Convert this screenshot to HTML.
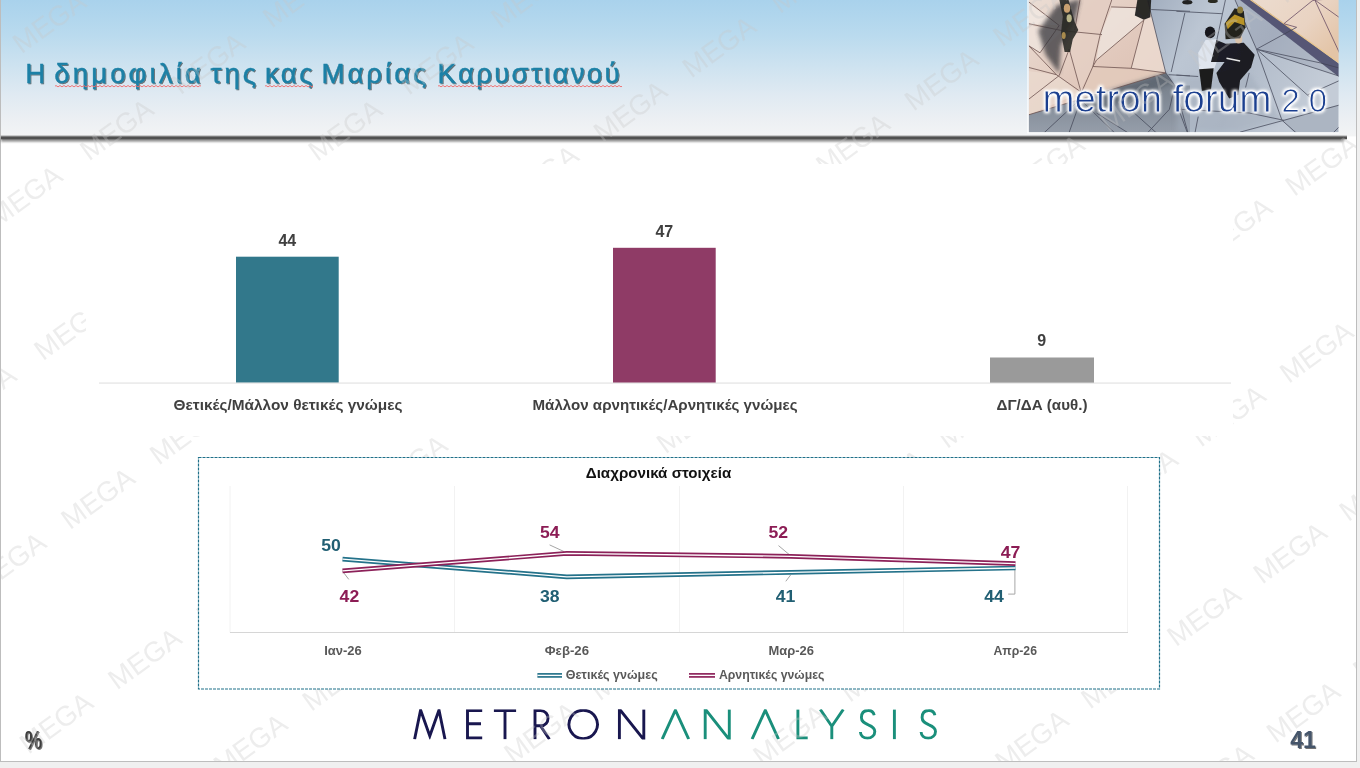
<!DOCTYPE html>
<html lang="el">
<head>
<meta charset="utf-8">
<title>Η δημοφιλία της κας Μαρίας Καρυστιανού</title>
<style>
  html, body { margin: 0; padding: 0; background: #f0f0f0; }
  body { width: 1360px; height: 768px; overflow: hidden; font-family: "Liberation Sans", sans-serif; }
  svg { display: block; position: absolute; left: 0; top: 0; will-change: transform; }
  svg text { font-family: "Liberation Sans", sans-serif; }
  .b { font-weight: bold; }
</style>
</head>
<body>
<svg width="1360" height="768" viewBox="0 0 1360 768">
  <defs>
    <linearGradient id="hdr" x1="0" y1="0" x2="0" y2="1">
      <stop offset="0" stop-color="#a9d2ec"/>
      <stop offset="0.25" stop-color="#b9daee"/>
      <stop offset="0.5" stop-color="#cfe3f0"/>
      <stop offset="0.7" stop-color="#e0eaf2"/>
      <stop offset="0.86" stop-color="#ebeff3"/>
      <stop offset="1" stop-color="#f3f4f5"/>
    </linearGradient>
    <filter id="blur2" x="-5%" y="-200%" width="110%" height="500%"><feGaussianBlur stdDeviation="1.3"/></filter>
    <filter id="tsh" x="-5%" y="-20%" width="110%" height="150%">
      <feGaussianBlur in="SourceAlpha" stdDeviation="0.7" result="b"/>
      <feOffset in="b" dx="1.2" dy="1.2" result="o"/>
      <feComponentTransfer in="o" result="s"><feFuncA type="linear" slope="0.55"/></feComponentTransfer>
      <feMerge><feMergeNode in="s"/><feMergeNode in="SourceGraphic"/></feMerge>
    </filter>
    <clipPath id="slideclip"><rect x="1" y="0" width="1355" height="761"/></clipPath>
    <clipPath id="logoclip"><rect x="400" y="709.2" width="560" height="30.2"/></clipPath>
    <clipPath id="photoclip"><rect x="1028.6" y="0" width="310" height="132.2"/></clipPath>
    <linearGradient id="pinkgrad" x1="0" y1="0" x2="1" y2="1">
      <stop offset="0" stop-color="#ebddd4"/><stop offset="0.5" stop-color="#e2cabe"/><stop offset="1" stop-color="#d9bbad"/>
    </linearGradient>
    <linearGradient id="botgrad" x1="0" y1="0" x2="0" y2="1">
      <stop offset="0" stop-color="#737b86"/><stop offset="0.55" stop-color="#858e9a"/><stop offset="1" stop-color="#979fab"/>
    </linearGradient>
    <linearGradient id="gbgrad" x1="0" y1="0" x2="1" y2="0.4">
      <stop offset="0" stop-color="#a2aebf"/><stop offset="0.3" stop-color="#bcc6d3"/><stop offset="0.65" stop-color="#b3bdcb"/><stop offset="1" stop-color="#c4ccd7"/>
    </linearGradient>
    <linearGradient id="beigegrad" x1="0" y1="0" x2="1" y2="0.7">
      <stop offset="0" stop-color="#ecdccf"/><stop offset="0.6" stop-color="#e9d3c2"/><stop offset="1" stop-color="#e3c4a6"/>
    </linearGradient>
    <filter id="pb0" x="-2%" y="-5%" width="104%" height="110%"><feGaussianBlur stdDeviation="0.55"/></filter>
    <filter id="pb1" x="-30%" y="-30%" width="160%" height="160%"><feGaussianBlur stdDeviation="0.7"/></filter>
    <filter id="pb2" x="-30%" y="-30%" width="160%" height="160%"><feGaussianBlur stdDeviation="2.2"/></filter>
    <filter id="glow" x="-10%" y="-40%" width="120%" height="180%">
      <feMorphology in="SourceAlpha" operator="dilate" radius="1" result="d"/>
      <feGaussianBlur in="d" stdDeviation="1.5" result="g"/>
      <feFlood flood-color="#ffffff" flood-opacity="1"/><feComposite in2="g" operator="in" result="w"/>
      <feComponentTransfer in="w"><feFuncA type="linear" slope="1.35"/></feComponentTransfer>
    </filter>
    <filter id="thin" x="-5%" y="-20%" width="110%" height="140%">
      <feMorphology in="SourceGraphic" operator="erode" radius="0.55"/>
    </filter>
  </defs>

  <!-- page surround + slide -->
  <rect x="0" y="0" width="1360" height="768" fill="#f0f0f0"/>
  <rect x="0.5" y="-1" width="1356" height="762.5" fill="#ffffff" stroke="#bdbdbd" stroke-width="1"/>

  <!-- header -->
  <rect x="1" y="0" width="1355" height="136.4" fill="url(#hdr)"/>
  <rect x="1" y="137.2" width="1343" height="4.4" fill="#3c3c3c" opacity="0.6" filter="url(#blur2)"/>
  <rect x="1" y="136.2" width="1346" height="3.1" fill="#505050"/>
  <rect x="1" y="135.6" width="1346" height="0.8" fill="#9a9a9a"/>

  <!-- photo -->
  <g clip-path="url(#photoclip)"><g id="photo" filter="url(#pb0)">
  <rect x="1028" y="-1" width="311" height="134" fill="#a7b2c2"/>
  <rect x="1150" y="-1" width="190" height="134" fill="url(#gbgrad)"/>
  <polygon points="1028.6,-0.9 1147.6,-0.9 1150.3,10.9 1165.8,72.9 1028.6,114.8" fill="url(#pinkgrad)"/>
  <polygon points="1112.0,7.3 1136.6,7.7 1143.9,20.0 1096.5,60.1 1100.2,34.6" fill="#efe6df" opacity="0.75"/>
  <polygon points="1028.6,3.6 1059.2,25.5 1028.6,23.7" fill="#f1e9e2" opacity="0.8"/>
  <polygon points="1028.6,25.5 1061.9,31.0 1040.0,52.8 1028.6,45.6" fill="#efe4dc" opacity="0.8"/>
  <polygon points="1072.8,33.7 1102.0,34.6 1092.9,66.5 1080.1,91.1 1069.2,49.2" fill="#e6d0c5" opacity="0.7"/>
  <polygon points="1143.9,20.0 1150.3,10.9 1165.8,72.9 1131.2,68.3" fill="#ecdcd2" opacity="0.8"/>
  <polygon points="1092.9,66.5 1165.8,72.9 1080.1,99.3" fill="#e2cabc" opacity="0.8"/>
  <polygon points="1028.6,71.1 1056.4,74.7 1080.1,92.9 1028.6,114.8" fill="#ead9ce" opacity="0.8"/>
  <polygon points="1078.3,0.0 1111.1,0.0 1100.2,34.6 1074.7,30.1" fill="#e3cdc2" opacity="0.8"/>
  <polygon points="1028.6,114.8 1080.1,99.3 1165.8,72.9 1174.9,85.6 1190.0,85.6 1190.0,134.8 1028.6,134.8" fill="url(#botgrad)"/>
  <polygon points="1080.1,99.3 1165.8,72.9 1173.1,82.9 1122.0,102.0 1096.5,113.0" fill="#59606a" opacity="0.72" filter="url(#pb2)"/>
  <polygon points="1176.4,76.5 1249.2,72.9 1282.0,120.3 1240.1,132.1 1176.4,132.1" fill="#a3adbb" opacity="0.5" filter="url(#pb2)"/>
  <polygon points="1282.0,120.3 1338.5,104.8 1338.5,134.8 1296.6,134.8" fill="#aab3c0" opacity="0.9"/>
  <polygon points="1234.7,-0.9 1252.0,-0.9 1340.3,64.7 1340.3,76.5 1256.5,49.2" fill="#5a5c78" opacity="0.16"/>
  <polygon points="1238.7,-0.9 1252.0,-0.9 1340.3,64.7 1340.3,78.0" fill="#4c4c6a" opacity="0.88" filter="url(#pb1)"/>
  <polygon points="1250.2,-0.9 1340.3,-0.9 1340.3,63.8" fill="url(#beigegrad)"/>
  <polyline points="1250.2,-0.5 1339.4,62.9" stroke="#e9c68e" stroke-width="1.2" fill="none"/>
  <g stroke="#6a4f4c" stroke-width="0.9" fill="none" opacity="0.85">
  <polyline points="1028.6,1.8 1059.2,25.5"/>
  <polyline points="1028.6,23.7 1061.9,30.6 1102.0,34.6"/>
  <polyline points="1112.0,-0.9 1100.2,34.6 1092.9,66.5 1082.0,91.1"/>
  <polyline points="1111.1,6.9 1136.6,7.7"/>
  <polyline points="1143.9,20.0 1096.5,60.1 1092.9,66.5"/>
  <polyline points="1143.9,20.0 1131.2,68.3"/>
  <polyline points="1092.9,66.5 1131.2,68.3 1165.8,72.9"/>
  <polyline points="1028.6,45.6 1056.4,74.7 1081.0,92.0"/>
  <polyline points="1028.6,67.4 1056.4,74.7"/>
  <polyline points="1028.6,99.3 1059.2,75.6"/>
  <polyline points="1059.2,75.6 1069.2,49.2"/>
  <polyline points="1069.2,49.2 1081.0,92.0"/>
  <polyline points="1059.2,25.5 1040.0,52.8 1028.6,45.6"/>
  <polyline points="1080.1,-0.9 1074.7,30.1"/>
  <polyline points="1028.6,114.8 1080.1,99.3 1165.8,72.9"/>
  </g>
  <g stroke="#3f4353" stroke-width="0.9" fill="none" opacity="0.8">
  <polyline points="1147.6,-0.9 1150.3,10.9 1165.8,72.9 1174.9,85.6 1188.5,134.8"/>
  <polyline points="1151.2,9.5 1190.0,11.3"/>
  <polyline points="1176.4,11.3 1221.9,13.7"/>
  <polyline points="1184.9,12.8 1171.2,72.0"/>
  <polyline points="1168.5,74.7 1190.0,75.8"/>
  <polyline points="1176.4,75.1 1198.2,76.5"/>
  <polyline points="1041.9,134.8 1080.1,99.3"/>
  <polyline points="1068.3,134.8 1077.4,109.3"/>
  <polyline points="1080.1,99.3 1116.6,134.8"/>
  <polyline points="1096.5,113.0 1131.2,134.8"/>
  <polyline points="1145.7,134.8 1169.4,109.3 1174.9,85.6"/>
  <polyline points="1122.0,102.0 1158.5,134.8"/>
  <polyline points="1225.6,-0.9 1216.4,41.9"/>
  <polyline points="1234.7,-0.9 1256.5,49.2 1282.0,120.3 1298.4,134.8"/>
  <polyline points="1256.5,49.2 1320.3,62.9 1340.3,68.3"/>
  <polyline points="1256.5,49.2 1340.3,76.5"/>
  <polyline points="1256.5,49.2 1311.2,98.4"/>
  <polyline points="1256.5,49.2 1296.6,27.3"/>
  <polyline points="1180.0,113.0 1188.2,134.8"/>
  <polyline points="1198.2,116.6 1194.6,134.8"/>
  <polyline points="1240.1,132.1 1283.9,120.3 1340.3,104.8"/>
  <polyline points="1283.9,120.3 1249.2,113.0 1180.0,109.3"/>
  <polyline points="1331.2,134.8 1340.3,125.7"/>
  <polyline points="1249.2,72.9 1245.6,87.5"/>
  <polyline points="1307.6,94.8 1340.3,80.2"/>
  </g>
  <g stroke="#5b3f5a" stroke-width="0.9" fill="none" opacity="0.8">
  <polyline points="1283.9,23.7 1312.1,0.9"/>
  <polyline points="1314.8,0.0 1340.3,18.2"/>
  <polyline points="1314.8,0.0 1340.3,54.7"/>
  <polyline points="1314.8,0.0 1329.4,-0.9"/>
  <polyline points="1312.1,0.9 1314.8,0.0"/>
  <polyline points="1296.6,27.3 1283.9,23.7"/>
  </g>
  <path d="M1080.1,-0.9 L1056.4,5.5 L1038.2,31.0 L1045.5,54.7 L1059.2,73.8 L1061.0,45.6 L1074.7,21.9 Z" fill="#36363a" opacity="0.74" filter="url(#pb2)"/>
  <path d="M1059.2,-0.9 L1068.3,-0.9 L1074.7,21.9 L1078.3,30.1 L1072.8,39.2 L1070.1,51.9 L1064.6,51.9 L1061.0,32.8 L1062.8,16.4 Z" fill="#2a2a26" opacity="0.9" filter="url(#pb1)"/>
  <ellipse cx="1067.0" cy="8.2" rx="3.2" ry="4.5" fill="#c9a070" filter="url(#pb1)"/>
  <ellipse cx="1069.2" cy="18.2" rx="2.6" ry="4" fill="#b9b58a" filter="url(#pb1)"/>
  <ellipse cx="1063.7" cy="35.5" rx="2" ry="3.5" fill="#a88a4e" filter="url(#pb1)"/>
  <path d="M1137.5,-0.9 L1151.2,-0.9 L1150.3,17.3 L1143.9,19.7 L1134.8,15.5 Z" fill="#1e1e1c" opacity="0.92" filter="url(#pb1)"/>
  <ellipse cx="1187.3" cy="2.2" rx="5" ry="2.2" fill="#222" filter="url(#pb1)"/>
  <ellipse cx="1212.8" cy="1.1" rx="5" ry="2" fill="#2b2b22" filter="url(#pb1)"/>
  <path d="M1198.2,52.8 L1205.5,40.1 L1216.4,39.2 L1219.2,54.7 L1213.7,70.2 L1199.1,70.2 Z" fill="#dfe5ee" filter="url(#pb1)"/>
  <path d="M1199.1,69.2 L1213.7,68.3 L1211.0,89.3 L1201.9,91.1 Z" fill="#1c1c1e" filter="url(#pb1)"/>
  <ellipse cx="1210.1" cy="32.4" rx="5.2" ry="5.8" fill="#15151a" filter="url(#pb1)"/>
  <path d="M1225.6,43.7 L1243.8,42.8 L1254.7,54.7 L1251.1,67.4 L1240.1,80.2 L1238.3,94.8 L1229.2,98.4 L1219.2,82.0 L1216.4,72.9 L1224.6,62.0 L1211.0,62.0 L1216.4,40.1 Z" fill="#16161a" opacity="0.95" filter="url(#pb1)"/>
  <ellipse cx="1238.7" cy="39.2" rx="3.6" ry="4.4" fill="#d9c3ac" filter="url(#pb1)"/>
  <path d="M1226.5,58.3 L1240.1,61.0" stroke="#e8e8e8" stroke-width="1.6" filter="url(#pb1)"/>
  <path d="M1234.7,8.2 L1243.8,10.9 L1245.6,27.3 L1240.1,38.3 L1225.6,39.2 L1224.6,23.7 Z" fill="#1d1b16" opacity="0.95" filter="url(#pb1)"/>
  <path d="M1225.6,22.8 L1234.7,14.6 L1244.1,18.2 L1244.7,25.5 L1234.7,21.9 L1227.7,29.2 Z" fill="#c9a02c" opacity="0.9" filter="url(#pb1)"/>
  <ellipse cx="1240.1" cy="10.0" rx="3" ry="3.5" fill="#8c7a3a" filter="url(#pb1)"/>
  </g></g>
  <rect x="1027.2" y="-1" width="1.6" height="134" fill="#ffffff" opacity="0.75"/>
  <rect x="1027.2" y="132.2" width="312" height="1.4" fill="#ffffff" opacity="0.7"/>
  <g id="phototext" font-size="39">
    <mask id="ptmask" maskUnits="userSpaceOnUse" x="1028" y="70" width="312" height="60">
      <g fill="#ffffff" stroke="#000000" stroke-width="0.95">
        <text x="1042.5" y="111.5" textLength="119.5" lengthAdjust="spacingAndGlyphs">metron</text>
        <text x="1172.5" y="111.5" textLength="99" lengthAdjust="spacingAndGlyphs">forum</text>
        <text x="1281.5" y="111.5" font-size="32.5" textLength="45.5" lengthAdjust="spacingAndGlyphs">2.0</text>
      </g>
    </mask>
    <g filter="url(#glow)" clip-path="url(#photoclip)">
      <text x="1042.5" y="111.5" textLength="119.5" lengthAdjust="spacingAndGlyphs">metron</text>
      <text x="1172.5" y="111.5" textLength="99" lengthAdjust="spacingAndGlyphs">forum</text>
      <text x="1281.5" y="111.5" font-size="32.5" textLength="45.5" lengthAdjust="spacingAndGlyphs">2.0</text>
    </g>
    <rect x="1028" y="70" width="312" height="60" fill="#1b3f8f" mask="url(#ptmask)"/>
  </g>

  <!-- title -->
  <g id="title" fill="#1b80a6" filter="url(#tsh)" font-size="27.6" stroke="#1b80a6" stroke-width="0.4">
    <text x="25.3" y="82.7">Η</text>
    <text x="54.3" y="82.7" textLength="146.5" lengthAdjust="spacing">δημοφιλία</text>
    <text x="210.6" y="82.7" textLength="45.5" lengthAdjust="spacing">της</text>
    <text x="265" y="82.7" textLength="47.5" lengthAdjust="spacing">κας</text>
    <text x="321.4" y="82.7" textLength="105" lengthAdjust="spacing">Μαρίας</text>
    <text x="437.6" y="82.7" textLength="182" lengthAdjust="spacing">Καρυστιανού</text>
  </g>
  <g id="squiggle" fill="none" stroke="#f06a6a" stroke-width="0.9">
    <path d="M55 86.2 q1 -1.4 2 0 t2 0 t2 0 t2 0 t2 0 t2 0 t2 0 t2 0 t2 0 t2 0 t2 0 t2 0 t2 0 t2 0 t2 0 t2 0 t2 0 t2 0 t2 0 t2 0 t2 0 t2 0 t2 0 t2 0 t2 0 t2 0 t2 0 t2 0 t2 0 t2 0 t2 0 t2 0 t2 0 t2 0 t2 0 t2 0 t2 0 t2 0 t2 0 t2 0 t2 0 t2 0 t2 0 t2 0 t2 0 t2 0 t2 0 t2 0 t2 0 t2 0 t2 0 t2 0 t2 0 t2 0 t2 0 t2 0 t2 0 t2 0 t2 0 t2 0 t2 0 t2 0 t2 0 t2 0 t2 0 t2 0 t2 0 t2 0 t2 0 t2 0 t2 0 t2 0 t2 0"/>
    <path d="M265 86.2 q1 -1.4 2 0 t2 0 t2 0 t2 0 t2 0 t2 0 t2 0 t2 0 t2 0 t2 0 t2 0 t2 0 t2 0 t2 0 t2 0 t2 0 t2 0 t2 0 t2 0 t2 0 t2 0 t2 0 t2 0 t2 0"/>
    <path d="M438 86.2 q1 -1.4 2 0 t2 0 t2 0 t2 0 t2 0 t2 0 t2 0 t2 0 t2 0 t2 0 t2 0 t2 0 t2 0 t2 0 t2 0 t2 0 t2 0 t2 0 t2 0 t2 0 t2 0 t2 0 t2 0 t2 0 t2 0 t2 0 t2 0 t2 0 t2 0 t2 0 t2 0 t2 0 t2 0 t2 0 t2 0 t2 0 t2 0 t2 0 t2 0 t2 0 t2 0 t2 0 t2 0 t2 0 t2 0 t2 0 t2 0 t2 0 t2 0 t2 0 t2 0 t2 0 t2 0 t2 0 t2 0 t2 0 t2 0 t2 0 t2 0 t2 0 t2 0 t2 0 t2 0 t2 0 t2 0 t2 0 t2 0 t2 0 t2 0 t2 0 t2 0 t2 0 t2 0 t2 0 t2 0 t2 0 t2 0 t2 0 t2 0 t2 0 t2 0 t2 0 t2 0 t2 0 t2 0 t2 0 t2 0 t2 0 t2 0 t2 0 t2 0 t2 0"/>
  </g>

  <!-- logo -->
  <g id="logo" fill="none" stroke-width="2.9" stroke-linejoin="miter" stroke-miterlimit="8" stroke-linecap="butt" clip-path="url(#logoclip)">
    <g stroke="#19174f">
      <path d="M414.6,739.2 L420.6,710.0 L429.8,736.0 L439,710.0 L445,739.2"/>
      <path d="M482.2,710.6 L467.5,710.6 L467.5,738.0 L482.2,738.0 M467.5,723.8000000000001 L481,723.8000000000001"/>
      <path d="M493.9,710.6 L516.1,710.6 M505,710.6 L505,739.2"/>
      <path d="M535,739.2 L535,710.6 L540.5,710.6 C550.5,710.6 550.5,725.8000000000001 540.5,725.8000000000001 L535,725.8000000000001 M540.6,726.0 L549.4,739.2"/>
      <path d="M583.2,710.2 A14.2,14.2 0 1 0 583.21,710.2 Z"/>
      <path d="M619.4,739.2 L619.4,709.0 L643.8,739.6 L643.8,709.4"/>
    </g>
    <g stroke="#1a8f7b">
      <path d="M662.2,739.2 L675.4,710.2 L688.7,739.2"/>
      <path d="M705.2,739.2 L705.2,709.0 L729.3,739.6 L729.3,709.4"/>
      <path d="M752.1,739.2 L765.3,710.2 L778.5,739.2"/>
      <path d="M797.9,709.4 L797.9,738.0 L807.7,738.0"/>
      <path d="M820.3,709.4 L831.8,726.2 L843.3,709.4 M831.8,725.7 L831.8,739.2"/>
      <path d="M874.1999999999999,715.2 C873.3,711.2 870.3,710.3000000000001 867.8,710.5 C863.3,710.6 861.4,713.8000000000001 861.4,717.6 C861.4,722.1 864.8,723.2 868.3,724.8000000000001 C872.3,726.4000000000001 874.8,728.4000000000001 874.8,731.4 C874.8,735.4 871.5999999999999,738.2 867.5,738.2 C863.1999999999999,738.2 860.5999999999999,735.6 860.4,732.0"/>
      <path d="M894.4,709.4 L894.4,739.2"/>
      <path d="M934.9,715.2 C934.0,711.2 931.0,710.3000000000001 928.5,710.5 C924.0,710.6 922.1,713.8000000000001 922.1,717.6 C922.1,722.1 925.5,723.2 929.0,724.8000000000001 C933.0,726.4000000000001 935.5,728.4000000000001 935.5,731.4 C935.5,735.4 932.3,738.2 928.2,738.2 C923.9,738.2 921.3,735.6 921.1,732.0"/>
    </g>
  </g>

  <!-- footer marks -->
  <text class="b" x="24.8" y="749.3" font-size="25" fill="#3d3d3d" filter="url(#tsh)" textLength="17.4" lengthAdjust="spacingAndGlyphs">%</text>
  <text class="b" x="1290.3" y="748.3" font-size="23" fill="#44546a" filter="url(#tsh)">41</text>

  <!-- watermark -->
  <g id="wm" font-size="28" fill="#c6c6c6" fill-opacity="0.32" text-anchor="middle" clip-path="url(#slideclip)">
    <text transform="translate(-40.0,86.7) rotate(-36.0)" y="10">MEGA</text>
    <text transform="translate(49.0,22.0) rotate(-36.0)" y="10">MEGA</text>
    <text transform="translate(138.0,-42.7) rotate(-36.0)" y="10">MEGA</text>
    <text transform="translate(25.1,195.6) rotate(-36.0)" y="10">MEGA</text>
    <text transform="translate(116.5,129.2) rotate(-36.0)" y="10">MEGA</text>
    <text transform="translate(207.9,62.8) rotate(-36.0)" y="10">MEGA</text>
    <text transform="translate(299.3,-3.6) rotate(-36.0)" y="10">MEGA</text>
    <text transform="translate(-20.9,395.4) rotate(-36.0)" y="10">MEGA</text>
    <text transform="translate(70.5,329.0) rotate(-36.0)" y="10">MEGA</text>
    <text transform="translate(162.0,262.5) rotate(-36.0)" y="10">MEGA</text>
    <text transform="translate(253.4,196.1) rotate(-36.0)" y="10">MEGA</text>
    <text transform="translate(344.8,129.7) rotate(-36.0)" y="10">MEGA</text>
    <text transform="translate(436.2,63.3) rotate(-36.0)" y="10">MEGA</text>
    <text transform="translate(527.6,-3.1) rotate(-36.0)" y="10">MEGA</text>
    <text transform="translate(8.8,562.3) rotate(-36.0)" y="10">MEGA</text>
    <text transform="translate(97.6,497.8) rotate(-36.0)" y="10">MEGA</text>
    <text transform="translate(186.3,433.4) rotate(-36.0)" y="10">MEGA</text>
    <text transform="translate(275.1,368.9) rotate(-36.0)" y="10">MEGA</text>
    <text transform="translate(363.8,304.4) rotate(-36.0)" y="10">MEGA</text>
    <text transform="translate(452.5,239.9) rotate(-36.0)" y="10">MEGA</text>
    <text transform="translate(541.3,175.4) rotate(-36.0)" y="10">MEGA</text>
    <text transform="translate(630.0,111.0) rotate(-36.0)" y="10">MEGA</text>
    <text transform="translate(718.8,46.5) rotate(-36.0)" y="10">MEGA</text>
    <text transform="translate(807.5,-18.0) rotate(-36.0)" y="10">MEGA</text>
    <text transform="translate(-32.5,786.7) rotate(-36.0)" y="10">MEGA</text>
    <text transform="translate(56.0,722.4) rotate(-36.0)" y="10">MEGA</text>
    <text transform="translate(144.5,658.1) rotate(-36.0)" y="10">MEGA</text>
    <text transform="translate(233.1,593.8) rotate(-36.0)" y="10">MEGA</text>
    <text transform="translate(321.6,529.5) rotate(-36.0)" y="10">MEGA</text>
    <text transform="translate(410.1,465.2) rotate(-36.0)" y="10">MEGA</text>
    <text transform="translate(498.6,400.9) rotate(-36.0)" y="10">MEGA</text>
    <text transform="translate(587.1,336.6) rotate(-36.0)" y="10">MEGA</text>
    <text transform="translate(675.6,272.3) rotate(-36.0)" y="10">MEGA</text>
    <text transform="translate(764.1,208.0) rotate(-36.0)" y="10">MEGA</text>
    <text transform="translate(852.6,143.7) rotate(-36.0)" y="10">MEGA</text>
    <text transform="translate(941.1,79.4) rotate(-36.0)" y="10">MEGA</text>
    <text transform="translate(1029.6,15.1) rotate(-36.0)" y="10">MEGA</text>
    <text transform="translate(1118.1,-49.2) rotate(-36.0)" y="10">MEGA</text>
    <text transform="translate(161.5,808.4) rotate(-36.0)" y="10">MEGA</text>
    <text transform="translate(250.1,744.0) rotate(-36.0)" y="10">MEGA</text>
    <text transform="translate(338.7,679.6) rotate(-36.0)" y="10">MEGA</text>
    <text transform="translate(427.2,615.3) rotate(-36.0)" y="10">MEGA</text>
    <text transform="translate(515.8,550.9) rotate(-36.0)" y="10">MEGA</text>
    <text transform="translate(604.4,486.6) rotate(-36.0)" y="10">MEGA</text>
    <text transform="translate(693.0,422.2) rotate(-36.0)" y="10">MEGA</text>
    <text transform="translate(781.6,357.8) rotate(-36.0)" y="10">MEGA</text>
    <text transform="translate(870.2,293.5) rotate(-36.0)" y="10">MEGA</text>
    <text transform="translate(958.8,229.1) rotate(-36.0)" y="10">MEGA</text>
    <text transform="translate(1047.4,164.7) rotate(-36.0)" y="10">MEGA</text>
    <text transform="translate(1135.9,100.4) rotate(-36.0)" y="10">MEGA</text>
    <text transform="translate(1224.5,36.0) rotate(-36.0)" y="10">MEGA</text>
    <text transform="translate(1313.1,-28.3) rotate(-36.0)" y="10">MEGA</text>
    <text transform="translate(453.6,795.3) rotate(-36.0)" y="10">MEGA</text>
    <text transform="translate(540.4,732.2) rotate(-36.0)" y="10">MEGA</text>
    <text transform="translate(627.2,669.1) rotate(-36.0)" y="10">MEGA</text>
    <text transform="translate(714.0,606.1) rotate(-36.0)" y="10">MEGA</text>
    <text transform="translate(800.8,543.0) rotate(-36.0)" y="10">MEGA</text>
    <text transform="translate(887.6,479.9) rotate(-36.0)" y="10">MEGA</text>
    <text transform="translate(974.4,416.9) rotate(-36.0)" y="10">MEGA</text>
    <text transform="translate(1061.2,353.8) rotate(-36.0)" y="10">MEGA</text>
    <text transform="translate(1148.0,290.7) rotate(-36.0)" y="10">MEGA</text>
    <text transform="translate(1234.8,227.7) rotate(-36.0)" y="10">MEGA</text>
    <text transform="translate(1321.7,164.6) rotate(-36.0)" y="10">MEGA</text>
    <text transform="translate(1408.5,101.5) rotate(-36.0)" y="10">MEGA</text>
    <text transform="translate(701.8,798.1) rotate(-36.0)" y="10">MEGA</text>
    <text transform="translate(789.5,734.4) rotate(-36.0)" y="10">MEGA</text>
    <text transform="translate(877.3,670.6) rotate(-36.0)" y="10">MEGA</text>
    <text transform="translate(965.1,606.8) rotate(-36.0)" y="10">MEGA</text>
    <text transform="translate(1052.9,543.0) rotate(-36.0)" y="10">MEGA</text>
    <text transform="translate(1140.7,479.3) rotate(-36.0)" y="10">MEGA</text>
    <text transform="translate(1228.4,415.5) rotate(-36.0)" y="10">MEGA</text>
    <text transform="translate(1316.2,351.7) rotate(-36.0)" y="10">MEGA</text>
    <text transform="translate(1404.0,287.9) rotate(-36.0)" y="10">MEGA</text>
    <text transform="translate(945.4,802.6) rotate(-36.0)" y="10">MEGA</text>
    <text transform="translate(1031.5,740.0) rotate(-36.0)" y="10">MEGA</text>
    <text transform="translate(1117.6,677.5) rotate(-36.0)" y="10">MEGA</text>
    <text transform="translate(1203.6,615.0) rotate(-36.0)" y="10">MEGA</text>
    <text transform="translate(1289.7,552.4) rotate(-36.0)" y="10">MEGA</text>
    <text transform="translate(1375.8,489.9) rotate(-36.0)" y="10">MEGA</text>
    <text transform="translate(1216.4,774.4) rotate(-36.0)" y="10">MEGA</text>
    <text transform="translate(1303.0,711.5) rotate(-36.0)" y="10">MEGA</text>
    <text transform="translate(1389.5,648.6) rotate(-36.0)" y="10">MEGA</text>
  </g>

  <!-- bar chart -->
  <g id="barchart">
    <rect x="86" y="164" width="1147" height="272" fill="#ffffff"/>
    <rect x="236" y="256.7" width="102.7" height="126" fill="#32788b"/>
    <rect x="613" y="247.8" width="102.7" height="135" fill="#8f3b66"/>
    <rect x="990" y="357.5" width="104" height="25.4" fill="#9a9a9a"/>
    <rect x="99" y="382.6" width="1132" height="0.9" fill="#d9d9d9"/>
    <g class="b" font-size="16" fill="#404040" text-anchor="middle">
      <text x="287.3" y="245.9">44</text>
      <text x="664.3" y="236.9">47</text>
      <text x="1041.7" y="346.3">9</text>
    </g>
    <g class="b" font-size="15" fill="#404040">
      <text x="173.5" y="410.3" textLength="229" lengthAdjust="spacingAndGlyphs">Θετικές/Μάλλον θετικές γνώμες</text>
      <text x="532.5" y="410.3" textLength="265" lengthAdjust="spacingAndGlyphs">Μάλλον αρνητικές/Αρνητικές γνώμες</text>
      <text x="996.5" y="410.3" textLength="91" lengthAdjust="spacingAndGlyphs">ΔΓ/ΔΑ (αυθ.)</text>
    </g>
  </g>

  <!-- line chart -->
  <g id="linechart">
    <rect x="198.5" y="457.5" width="961" height="231.5" fill="#ffffff" stroke="#1f7089" stroke-width="1.2" stroke-dasharray="3 1"/>
    <g stroke="#f2f2f2" stroke-width="1">
      <line x1="230" y1="486" x2="230" y2="632.5"/>
      <line x1="454.5" y1="486" x2="454.5" y2="632.5"/>
      <line x1="679.5" y1="486" x2="679.5" y2="632.5"/>
      <line x1="903.5" y1="486" x2="903.5" y2="632.5"/>
      <line x1="1127.5" y1="486" x2="1127.5" y2="632.5"/>
    </g>
    <rect x="230" y="632" width="898" height="1" fill="#d6d6d6"/>
    <text class="b" x="658.5" y="477.8" font-size="14.8" fill="#111111" text-anchor="middle" textLength="145.5" lengthAdjust="spacingAndGlyphs">Διαχρονικά στοιχεία</text>

    <!-- leader lines -->
    <g stroke="#a6a6a6" stroke-width="1" fill="none">
      <path d="M342.6 571.3 L348.8 579.4"/>
      <path d="M549.6 544.9 L563.9 551.5"/>
      <path d="M778.5 545.6 L789.5 554.8"/>
      <path d="M790.6 575 L785.8 581.3"/>
      <path d="M1014.9 567.6 L1014.9 594.1 L1008.2 594.1"/>
    </g>

    <!-- series -->
    <g fill="none" stroke-linejoin="round" stroke-linecap="butt">
      <polyline points="342.5,559.2 566.8,576.8 791,572.4 1015.5,568" stroke="#24728a" stroke-width="4.7"/>
      <polyline points="342.5,559.2 566.8,576.8 791,572.4 1015.5,568" stroke="#ffffff" stroke-width="1.35"/>
      <polyline points="342.5,570.9 566.8,553.4 791,556.3 1015.5,563.6" stroke="#8c2159" stroke-width="4.7"/>
      <polyline points="342.5,570.9 566.8,553.4 791,556.3 1015.5,563.6" stroke="#ffffff" stroke-width="1.35"/>
    </g>

    <!-- data labels -->
    <g class="b" font-size="16.3">
      <g fill="#215f73">
        <text x="321.3" y="551.2" textLength="19.6" lengthAdjust="spacingAndGlyphs">50</text>
        <text x="540" y="602" textLength="19.6" lengthAdjust="spacingAndGlyphs">38</text>
        <text x="775.7" y="602" textLength="19.6" lengthAdjust="spacingAndGlyphs">41</text>
        <text x="984.2" y="602" textLength="19.6" lengthAdjust="spacingAndGlyphs">44</text>
      </g>
      <g fill="#8c1d55">
        <text x="339.6" y="602" textLength="19.6" lengthAdjust="spacingAndGlyphs">42</text>
        <text x="540" y="537.6" textLength="19.6" lengthAdjust="spacingAndGlyphs">54</text>
        <text x="768.4" y="538" textLength="19.6" lengthAdjust="spacingAndGlyphs">52</text>
        <text x="1000.8" y="557.5" textLength="19.6" lengthAdjust="spacingAndGlyphs">47</text>
      </g>
    </g>

    <!-- axis labels -->
    <g class="b" font-size="13" fill="#595959">
      <text x="324.2" y="655.2" textLength="37.5" lengthAdjust="spacingAndGlyphs">Ιαν-26</text>
      <text x="544.8" y="655.2" textLength="44.2" lengthAdjust="spacingAndGlyphs">Φεβ-26</text>
      <text x="768.5" y="655.2" textLength="45.5" lengthAdjust="spacingAndGlyphs">Μαρ-26</text>
      <text x="993.5" y="655.2" textLength="43.5" lengthAdjust="spacingAndGlyphs">Απρ-26</text>
    </g>

    <!-- legend -->
    <line x1="537.4" y1="675.4" x2="562" y2="675.4" stroke="#24728a" stroke-width="4.7"/>
    <line x1="537.4" y1="675.4" x2="562" y2="675.4" stroke="#ffffff" stroke-width="1.35"/>
    <line x1="689" y1="675.4" x2="715" y2="675.4" stroke="#8c2159" stroke-width="4.7"/>
    <line x1="689" y1="675.4" x2="715" y2="675.4" stroke="#ffffff" stroke-width="1.35"/>
    <g class="b" font-size="13" fill="#595959">
      <text x="565.7" y="678.8" textLength="92" lengthAdjust="spacingAndGlyphs">Θετικές γνώμες</text>
      <text x="718.9" y="678.8" textLength="105.5" lengthAdjust="spacingAndGlyphs">Αρνητικές γνώμες</text>
    </g>
  </g>

  

  </svg>
</body>
</html>
